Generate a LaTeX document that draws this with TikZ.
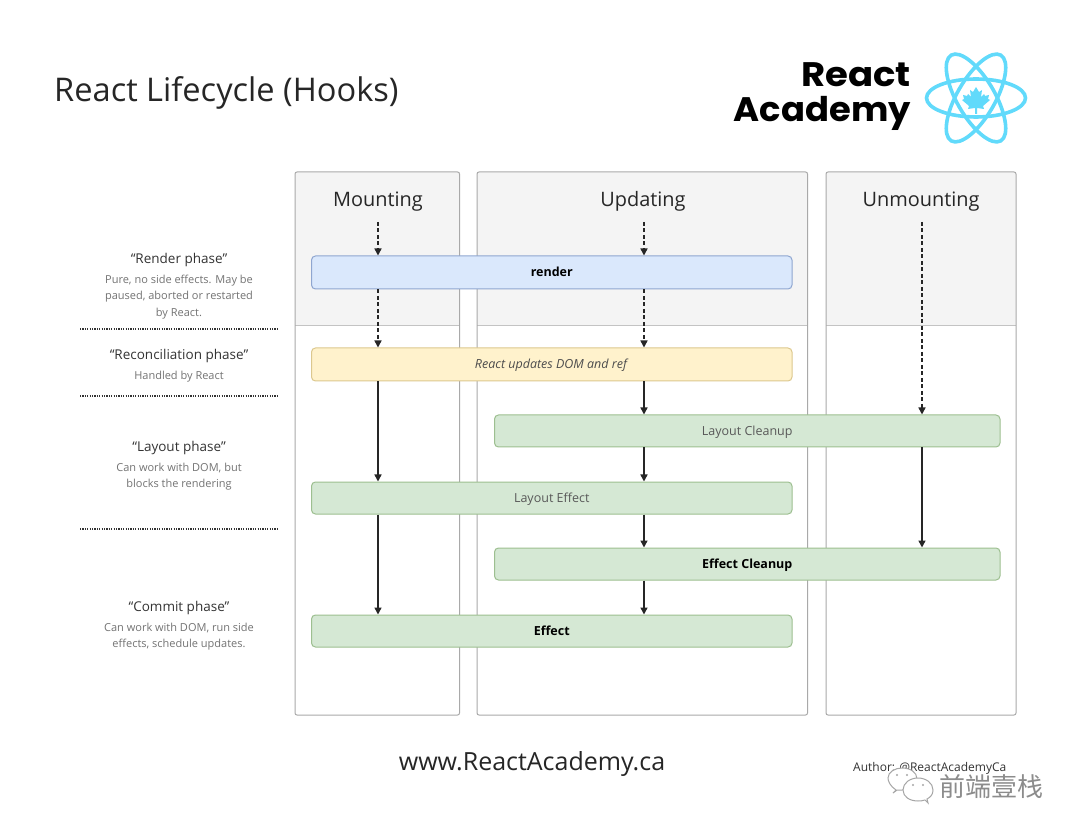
\documentclass[tikz,border=0pt]{standalone}
\usepackage{fontspec}
\setmainfont{Open Sans}
\newfontfamily\logofonta{Poppins}[UprightFont=* Bold,FakeStretch=1.09]
\newfontfamily\logofontb{Poppins}[UprightFont=* Bold,FakeStretch=1.04]
\newfontfamily\cjkf{Noto Sans CJK SC}
\usetikzlibrary{arrows.meta,calc}
\definecolor{hdr}{HTML}{F4F4F4}
\definecolor{colborder}{HTML}{A9A9A9}
\definecolor{blf}{HTML}{DAE8FC}\definecolor{bld}{HTML}{8FA6D0}
\definecolor{yef}{HTML}{FFF2CC}\definecolor{yed}{HTML}{DCC88E}
\definecolor{grf}{HTML}{D5E8D4}\definecolor{grd}{HTML}{9DBF90}
\definecolor{reactblue}{HTML}{61DAFB}
\tikzset{x=1pt,y=-1pt,
 colbox/.style={draw=colborder,line width=1pt,rounded corners=2pt},
 phasebox/.style={line width=1pt,rounded corners=4pt,anchor=north west,inner sep=0pt,text height=12pt,text depth=3pt,font=\fontsize{12.5}{15}\selectfont},
 blue box/.style={phasebox,fill=blf,draw=bld},
 yellow box/.style={phasebox,fill=yef,draw=yed},
 green box/.style={phasebox,fill=grf,draw=grd},
 coltitle/.style={text height=18pt,text depth=4pt,font=\fontsize{19.9}{24}\selectfont,text=black!85},
 phasetitle/.style={font=\fontsize{13.5}{16}\selectfont,text=black!80},
 phasenote/.style={font=\fontsize{11}{16.5}\selectfont,text=black!55,align=center},
 flow/.style={line width=1.5pt,-{Triangle[length=7pt,width=7pt]},black!85},
 dflow/.style={flow,dash pattern=on 4pt off 2.5pt},
 sep/.style={line width=1.6pt,black!80,dash pattern=on 1.2pt off 1.2pt},
 orbit/.style={draw=reactblue,line width=3.6pt},
 bubble/.style={draw=black!35,line width=1pt,fill=white}}
\begin{document}
\begin{tikzpicture}
\useasboundingbox (0,0) rectangle (1080,834);
\fill[white] (0,0) rectangle (1080,834);
% title
\node[anchor=west,inner sep=0pt,font=\fontsize{32.6}{38}\selectfont,text=black!85] (title) at (54,93) {React Lifecycle (Hooks)};
% logo
\node[anchor=east,inner sep=0pt,font=\logofonta\fontsize{34}{38}\selectfont] (logoa) at (911,75) {React};
\node[anchor=east,inner sep=0pt,font=\logofontb\fontsize{34}{38}\selectfont] (logob) at (911,113) {Academy};
\foreach \a in {0,60,120}{\draw[orbit,rotate around={\a:(976,98)}] (976,98) ellipse [x radius=49.5,y radius=19];}
\fill[reactblue] (976,87) -- (979,92) -- (982,90) -- (981,97) -- (984,94) -- (985,96) -- (989,95) -- (988,99) -- (990,100) -- (983,106) -- (984,109) -- (977,108) -- (977,114) -- (975,114) -- (975,108) -- (968,109) -- (969,106) -- (962,100) -- (964,99) -- (963,95) -- (967,96) -- (968,94) -- (971,97) -- (970,90) -- (973,92) -- cycle;
% columns
\fill[hdr] (295,325) -- (295,172) -- (459.5,172) -- (459.5,325) -- cycle;
\fill[hdr] (477,325) -- (477,172) -- (807.5,172) -- (807.5,325) -- cycle;
\fill[hdr] (826,325) -- (826,172) -- (1016,172) -- (1016,325) -- cycle;
\draw[colborder!70,line width=.8pt] (295,325) -- (459.5,325) (477,325) -- (807.5,325) (826,325) -- (1016,325);
\draw[colbox] (295,172) rectangle (459.5,715);
\draw[colbox] (477,172) rectangle (807.5,715);
\draw[colbox] (826,172) rectangle (1016,715);
\node[coltitle] (mount) at (378,200) {Mounting};
\node[coltitle] (upd) at (643,200) {Updating};
\node[coltitle] (unm) at (921,200) {Unmounting};
% boxes
\node[blue box,minimum width=480.5pt,minimum height=33pt] (render) at (311,255.5) {\textbf{render}};
\node[yellow box,minimum width=480.5pt,minimum height=33pt,text=black!70] (dom) at (311,347.5) {\textit{React updates DOM and ref}};
\node[green box,minimum width=505.5pt,minimum height=32pt,text=black!65] (lc) at (494,414.5) {Layout Cleanup};
\node[green box,minimum width=480.5pt,minimum height=32pt,text=black!65] (le) at (311,481.5) {Layout Effect};
\node[green box,minimum width=505.5pt,minimum height=32pt] (ec) at (494,547.5) {\textbf{Effect Cleanup}};
\node[green box,minimum width=480.5pt,minimum height=32pt] (ef) at (311,614.5) {\textbf{Effect}};
% connector rails
\coordinate (ma) at (378,222);
\coordinate (ua) at (644,222);
\coordinate (xa) at (922,222);
\draw[dflow] (ma) -- (ma |- render.north);
\draw[dflow] (ma |- render.south) -- (ma |- dom.north);
\draw[flow] (ma |- dom.south) -- (ma |- le.north);
\draw[flow] (ma |- le.south) -- (ma |- ef.north);
\draw[dflow] (ua) -- (ua |- render.north);
\draw[dflow] (ua |- render.south) -- (ua |- dom.north);
\draw[flow] (ua |- dom.south) -- (ua |- lc.north);
\draw[flow] (ua |- lc.south) -- (ua |- le.north);
\draw[flow] (ua |- le.south) -- (ua |- ec.north);
\draw[flow] (ua |- ec.south) -- (ua |- ef.north);
\draw[dflow] (xa) -- (xa |- lc.north);
\draw[flow] (xa |- lc.south) -- (xa |- ec.north);
% left texts
\node[phasetitle] (p1) at (179,260) {“Render phase”};
\node[phasenote,anchor=north] (n1) at (179,271.5) {Pure, no side effects. May be\\paused, aborted or restarted\\by React.};
\node[phasetitle] (p2) at (179,356) {“Reconciliation phase”};
\node[phasenote] (n2) at (179,377) {Handled by React};
\node[phasetitle] (p3) at (179,448) {“Layout phase”};
\node[phasenote,anchor=north] (n3) at (179,459.5) {Can work with DOM, but\\blocks the rendering};
\node[phasetitle] (p4) at (179,608) {“Commit phase”};
\node[phasenote,anchor=north] (n4) at (179,619.5) {Can work with DOM, run side\\effects, schedule updates.};
\coordinate (s1a) at (80,329);\coordinate (s1b) at (278,329);
\coordinate (s2a) at (80,396);\coordinate (s2b) at (278,396);
\coordinate (s3a) at (80,529);\coordinate (s3b) at (278,529);
\draw[sep] (s1a) -- (s1b);
\draw[sep] (s2a) -- (s2b);
\draw[sep] (s3a) -- (s3b);
% footer
\node[font=\fontsize{25}{30}\selectfont,text=black!85] (web) at (532,764) {www.ReactAcademy.ca};
\node[anchor=west,inner sep=0pt,font=\fontsize{12}{14}\selectfont,text=black!80] (auth) at (853,768) {Author: @ReactAcademyCa};
% watermark
\path[bubble] (893,793) -- (896,790) .. controls (890,786) and (888,781) .. (888,778) .. controls (888,772) and (895,768) .. (902,768) .. controls (910,768) and (917,772) .. (917,779) .. controls (917,786) and (910,790) .. (902,790) -- (897,790) -- cycle;
\path[bubble] (928,803) -- (925,800) .. controls (922,801) and (920,801) .. (918,801) .. controls (910,801) and (903,797) .. (903,790) .. controls (903,783) and (910,778) .. (918,778) .. controls (926,778) and (933,783) .. (933,790) .. controls (933,794) and (931,797) .. (927,799) -- cycle;
\fill[black!35] (897,775) circle (1.1) (907,775) circle (1.1) (913,785) circle (1.1) (923,785) circle (1.1);
\node[anchor=west,inner sep=0pt,font=\cjkf\fontsize{26}{29}\selectfont,text=black!45] (wm) at (939,787) {前端壹栈};
\end{tikzpicture}
\end{document}
